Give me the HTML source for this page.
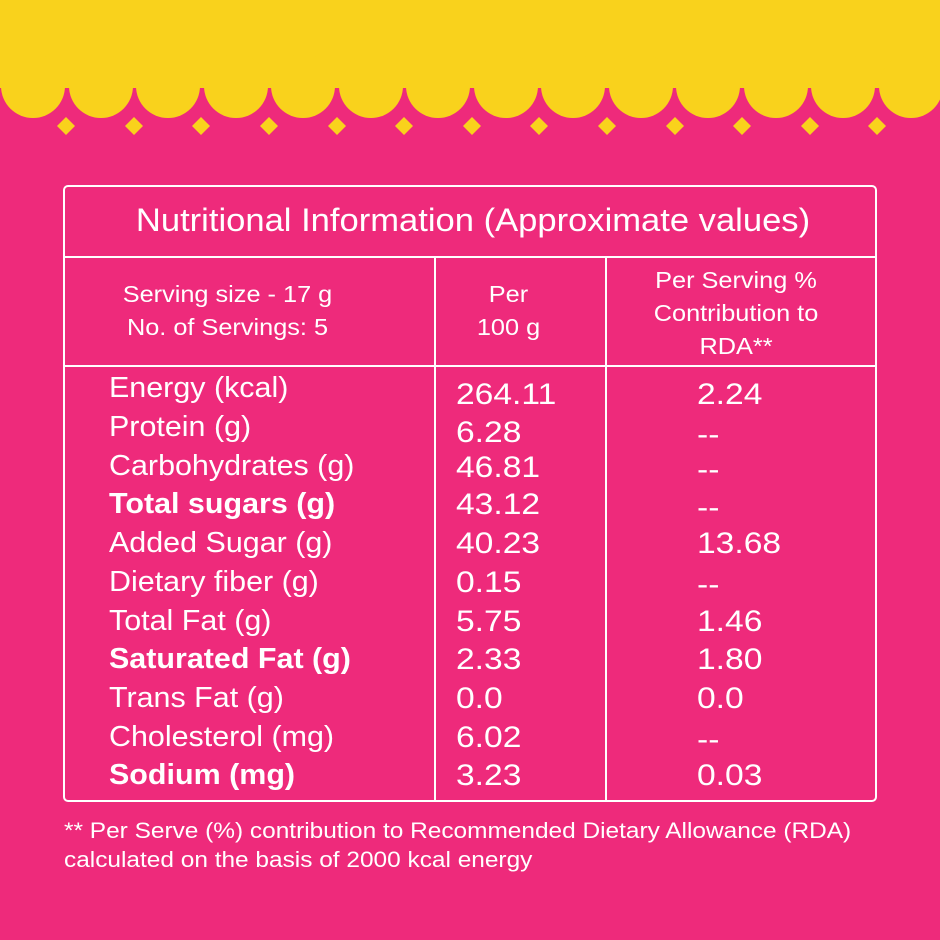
<!DOCTYPE html>
<html><head><style>
html,body{margin:0;padding:0}
body{width:940px;height:940px;background:#EE2A7B;position:relative;overflow:hidden;font-family:"Liberation Sans",Arial,sans-serif;color:#fff}
.t{position:absolute;white-space:nowrap;line-height:1;transform-origin:0 0}
.l{left:109px;font-size:29px;transform:scaleX(1.05)}
.v{left:456px;font-size:30px;transform:scaleX(1.12)}
.w{left:697px;font-size:30px;transform:scaleX(1.12)}
b{font-weight:bold}
.c{text-align:center;font-size:23px;line-height:33px}
</style></head><body>
<svg width="940" height="940" style="position:absolute;left:0;top:0">
<rect x="0" y="0" width="940" height="88" fill="#F9D21C"/>
<g fill="#F9D21C">
<circle cx="33" cy="86" r="32"/><circle cx="101" cy="86" r="32"/><circle cx="168" cy="86" r="32"/><circle cx="236" cy="86" r="32"/><circle cx="303" cy="86" r="32"/><circle cx="371" cy="86" r="32"/><circle cx="438" cy="86" r="32"/><circle cx="506" cy="86" r="32"/><circle cx="573" cy="86" r="32"/><circle cx="641" cy="86" r="32"/><circle cx="708" cy="86" r="32"/><circle cx="776" cy="86" r="32"/><circle cx="843" cy="86" r="32"/><circle cx="911" cy="86" r="32"/><circle cx="978" cy="86" r="32"/>
</g>
<g fill="#F9D21C">
<path d="M66 117l9 9-9 9-9-9z"/><path d="M134 117l9 9-9 9-9-9z"/><path d="M201 117l9 9-9 9-9-9z"/><path d="M269 117l9 9-9 9-9-9z"/><path d="M337 117l9 9-9 9-9-9z"/><path d="M404 117l9 9-9 9-9-9z"/><path d="M472 117l9 9-9 9-9-9z"/><path d="M539 117l9 9-9 9-9-9z"/><path d="M607 117l9 9-9 9-9-9z"/><path d="M675 117l9 9-9 9-9-9z"/><path d="M742 117l9 9-9 9-9-9z"/><path d="M810 117l9 9-9 9-9-9z"/><path d="M877 117l9 9-9 9-9-9z"/>
</g>
<g stroke="#fff" stroke-width="2" fill="none">
<rect x="64" y="186" width="812" height="615" rx="4"/>
<line x1="64" y1="257" x2="876" y2="257"/>
<line x1="64" y1="366" x2="876" y2="366"/>
<line x1="435" y1="257" x2="435" y2="801"/>
<line x1="606" y1="257" x2="606" y2="801"/>
</g>
</svg>
<div class="t" style="left:67px;width:812px;text-align:center;top:204px;font-size:32px;transform-origin:50% 0;transform:scaleX(1.08)">Nutritional Information (Approximate values)</div>
<div class="t c" style="left:42px;width:371px;top:278px;transform-origin:50% 0;transform:scaleX(1.1)">Serving size - 17 g<br>No. of Servings: 5</div>
<div class="t c" style="left:423px;width:171px;top:278px;transform-origin:50% 0;transform:scaleX(1.1)">Per<br>100 g</div>
<div class="t c" style="left:601px;width:270px;top:264px;transform-origin:50% 0;transform:scaleX(1.1)">Per Serving %<br>Contribution to<br>RDA**</div>

<div class="t l" style="top:374px">Energy (kcal)</div>
<div class="t l" style="top:413px">Protein (g)</div>
<div class="t l" style="top:452px">Carbohydrates (g)</div>
<div class="t l" style="top:490px"><b>Total sugars (g)</b></div>
<div class="t l" style="top:529px">Added Sugar (g)</div>
<div class="t l" style="top:568px">Dietary fiber (g)</div>
<div class="t l" style="top:607px">Total Fat (g)</div>
<div class="t l" style="top:645px"><b>Saturated Fat (g)</b></div>
<div class="t l" style="top:684px">Trans Fat (g)</div>
<div class="t l" style="top:723px">Cholesterol (mg)</div>
<div class="t l" style="top:761px"><b>Sodium (mg)</b></div>

<div class="t v" style="top:380px">264.11</div>
<div class="t v" style="top:418px">6.28</div>
<div class="t v" style="top:453px">46.81</div>
<div class="t v" style="top:490px">43.12</div>
<div class="t v" style="top:529px">40.23</div>
<div class="t v" style="top:568px">0.15</div>
<div class="t v" style="top:607px">5.75</div>
<div class="t v" style="top:645px">2.33</div>
<div class="t v" style="top:684px">0.0</div>
<div class="t v" style="top:723px">6.02</div>
<div class="t v" style="top:761px">3.23</div>

<div class="t w" style="top:380px">2.24</div>
<div class="t w" style="top:420px">--</div>
<div class="t w" style="top:455px">--</div>
<div class="t w" style="top:493px">--</div>
<div class="t w" style="top:529px">13.68</div>
<div class="t w" style="top:570px">--</div>
<div class="t w" style="top:607px">1.46</div>
<div class="t w" style="top:645px">1.80</div>
<div class="t w" style="top:684px">0.0</div>
<div class="t w" style="top:725px">--</div>
<div class="t w" style="top:761px">0.03</div>

<div class="t" style="left:64px;top:816px;font-size:22px;line-height:29px;transform:scaleX(1.11)">** Per Serve (%) contribution to Recommended Dietary Allowance (RDA)<br>calculated on the basis of 2000 kcal energy</div>
</body></html>
